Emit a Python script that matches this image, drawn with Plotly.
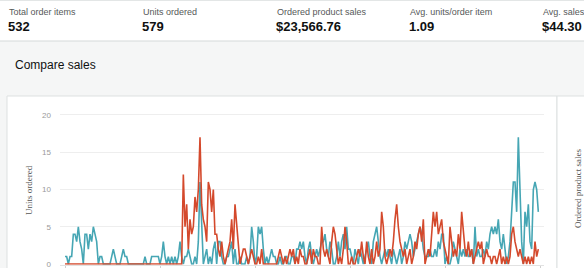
import plotly.graph_objects as go

W, H = 584, 268

# ---------------- data ----------------
kpi_labels = ["Total order items", "Units ordered", "Ordered product sales",
              "Avg. units/order item", "Avg. sales/order item"]
kpi_values = ["532", "579", "$23,566.76", "1.09", "$44.30"]

teal_a = [1,1,0,1,1,4,4,3,5,3, 2,0,4,4,2,4,3,5,4,3, 0,1,1,0,0,0,0,0,1,2,
          1,0,0,0,1,2,1,1,0,0, 0,0,0,0,0,0,0,0,1,0, 0,0,1,1]
teal_b = [1,1,1,0,1,3,1,0,1,0, 1,0,1,0,1,3,1,0,1,1, 2,1,0,0,1,0,3,11,4,0,
          1,2,0,1,0,2,3,0,3,3, 1,0,0,1,1,2,3,0,2,0, 0,1,0,0,0,1,0,1,5,3]
teal_c = [0,1,5,4,5,2,0,1,0,1, 2,1,1,0,0,1,0,0,1,1, 0,0,1,1,0,2,2,3,2,3,
          1,0,2,3,1,0,1,2,1,2, 3,3,4,2,1,3,2,0,0,1, 3,1,3,4,2,5,2]
teal_d = [2,1,0,2,1,0,2,1,0,1, 2,3,1,0,3,4,5,3,1,0, 1,2,1,2,1,0,2,1,0,1,
          2,0,1,3,2,3,4,3,1,2, 3,4,5,4,2,1,1,1,2,1, 1,2,1,3,2,4,4]
teal_e = [0,1,0,0,1,3,2,1,0,2, 1,2,1,2,1,1,2,0,5,1, 2,1,1,2,1,3,2,4,5,4,
          5,4,6,3,2,4,2,0,1,3, 7,11,11,7,17,8,3,0,7,5, 8,3,2,10,11,10,7]

red_a = [0] * 54
red_b = [0,0,0,0,0,0,0,0,0,0, 0,0,0,0,0,0,0,
         12,5,8,2,6,4,5,9,7,10, 17,8,6,5,3,11,10,7,10,4,
         4,2,1,3,1,0,1,2,3,6, 2,8,5,3,0,1,2,2,1,0, 1,2,1]
red_c = [0,0,1,0,2,0,0,0,0,0, 0,0,0,0,1,2,1,0,1,0, 1,2,1,2,0,1,0,2,1,1,
         0,0,1,2,0,2,1,1,0,0, 5,2,1,2,1,0,3,5,4,2, 0,1,0,2,5,3,0]
red_d = [0,1,0,0,1,2,1,3,1,0, 3,1,0,2,0,1,3,1,2,7, 5,1,0,1,2,1,3,6,8,5,
         3,2,1,2,0,1,2,0,1,3, 2,4,5,3,6,0,1,2,1,4, 7,5,7,4,5,6,3]
red_e = [2,1,0,5,3,1,2,1,4,2, 7,4,2,1,3,1,2,0,1,2, 3,2,3,0,1,2,1,1,0,1,
         1,0,1,2,0,1,0,1,0,1, 4,5,3,2,1,2,1,0,1,0, 1,0,1,0,3,1,2]

units_current = teal_a + teal_b + teal_c + teal_d + teal_e
units_compare = red_a + red_b + red_c + red_d + red_e
days = list(range(len(units_current)))

y_ticks = [0, 5, 10, 15, 20]
x_ticks = [0, 57, 114, 171, 228, 285]

TEAL = "#46A6B4"
RED = "#D4492C"


def px(x):
    return x / W


def py(y):
    return 1 - y / H


fig = go.Figure()
fig.add_trace(go.Scatter(x=days, y=units_current, mode="lines",
                         name="Selected date range",
                         line=dict(color=TEAL, width=1.6)))
fig.add_trace(go.Scatter(x=days, y=units_compare, mode="lines",
                         name="Same date range one year ago",
                         line=dict(color=RED, width=1.6)))

shapes = [
    dict(type="rect", xref="paper", yref="paper", x0=0, x1=1, y0=py(41), y1=1,
         fillcolor="#FFFFFF", line=dict(width=0), layer="below"),
    dict(type="line", xref="paper", yref="paper", x0=0, x1=1, y0=py(41), y1=py(41),
         line=dict(color="#D5D9D9", width=1), layer="below"),
    dict(type="line", xref="paper", yref="paper", x0=0, x1=1, y0=py(0.5), y1=py(0.5),
         line=dict(color="#E3E6E6", width=1), layer="below"),
    dict(type="rect", xref="paper", yref="paper", x0=px(7), x1=px(557), y0=py(270), y1=py(96),
         fillcolor="#FFFFFF", line=dict(color="#DDE1E1", width=1), layer="below"),
    dict(type="rect", xref="paper", yref="paper", x0=px(557), x1=px(590), y0=py(270), y1=py(96),
         fillcolor="#FFFFFF", line=dict(color="#DDE1E1", width=1), layer="below"),
]

annotations = []
col_x = [7, 141, 275, 408, 541]
for cx, lab, val in zip(col_x, kpi_labels, kpi_values):
    annotations.append(dict(xref="paper", yref="paper", x=px(cx), y=py(12),
                            xanchor="left", yanchor="middle", showarrow=False,
                            text=lab, font=dict(family="Liberation Sans, Arial", size=9, color="#565959")))
    annotations.append(dict(xref="paper", yref="paper", x=px(cx - 1), y=py(26.5),
                            xanchor="left", yanchor="middle", showarrow=False,
                            text="<b>" + val + "</b>",
                            font=dict(family="Liberation Sans, Arial", size=13, color="#0F1111")))

annotations.append(dict(xref="paper", yref="paper", x=px(13), y=py(65),
                        xanchor="left", yanchor="middle", showarrow=False,
                        text="Compare sales",
                        font=dict(family="Liberation Sans, Arial", size=12, color="#0F1111")))
annotations.append(dict(xref="paper", yref="paper", x=px(29), y=py(190),
                        xanchor="center", yanchor="middle", showarrow=False, textangle=-90,
                        text="Units ordered",
                        font=dict(family="Liberation Serif, Times New Roman", size=9, color="#555555")))
annotations.append(dict(xref="paper", yref="paper", x=px(578), y=py(189),
                        xanchor="center", yanchor="middle", showarrow=False, textangle=-90,
                        text="Ordered product sales",
                        font=dict(family="Liberation Serif, Times New Roman", size=9, color="#555555")))

fig.update_layout(
    width=W, height=H,
    margin=dict(l=0, r=0, t=0, b=0, autoexpand=False),
    paper_bgcolor="#F5F6F6",
    plot_bgcolor="rgba(0,0,0,0)",
    showlegend=False,
    shapes=shapes,
    annotations=annotations,
    xaxis=dict(domain=[px(60), px(544)], range=[-3, 287.4], automargin=False,
               showgrid=False, zeroline=False, showline=True, linecolor="#E2E2E2",
               ticks="outside", ticklen=4, tickcolor="#D0D0D0",
               tickvals=x_ticks, showticklabels=False, fixedrange=True),
    yaxis=dict(domain=[py(264.75), py(112)], range=[-0.1, 20.4], automargin=False,
               tickvals=y_ticks, showgrid=True, gridcolor="#EEEEEE", gridwidth=1,
               zeroline=False, showline=False, ticks="",
               ticklabelstandoff=8, ticklabeloverflow="allow",
               tickfont=dict(family="Liberation Sans, Arial", size=8, color="#9A9A9A"),
               fixedrange=True),
)

fig.write_html("out.html")
